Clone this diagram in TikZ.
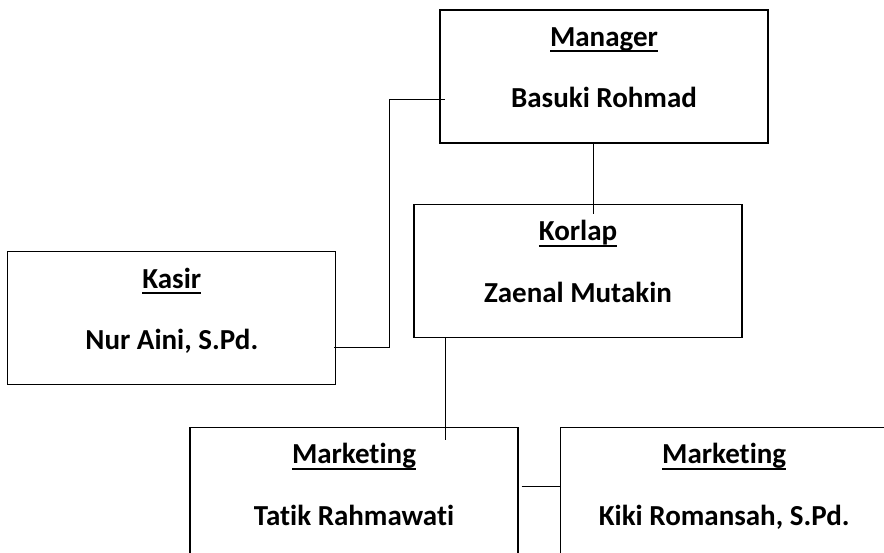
\documentclass[tikz,border=0pt]{standalone}
\usepackage{fontspec}
\setmainfont{Carlito}[Ligatures=NoCommon]
\usetikzlibrary{positioning}
\newcommand\boxtitle[1]{\setbox0\hbox{#1}\rlap{\rule[-6pt]{\wd0}{2pt}}\box0}

\begin{document}
\begin{tikzpicture}[%
        every node/.style={rectangle, draw, line width=1.2pt, minimum width=328pt, minimum height=133pt, inner sep=0pt,
          align=center, font=\fontsize{29pt}{61.5pt}\selectfont\bfseries, text height=80pt, text depth=17pt},
        link/.style={line width=1pt},
        node distance=60pt
      ]
      \useasboundingbox (0,0) rectangle (884pt,-553pt);
      \node (manager) at (604pt,-76.5pt) {\boxtitle{Manager}\\Basuki Rohmad};
      \node (korlap) [below=60pt of manager, xshift=-26pt] {\boxtitle{Korlap}\\Zaenal Mutakin};
      \node (kasir) [left=77pt of korlap, yshift=-47.5pt] {\boxtitle{Kasir}\\Nur Aini, S.Pd.};
      \node (mkt1) [below=89pt of korlap, xshift=-224pt] {\boxtitle{Marketing}\\Tatik Rahmawati};
      \node (mkt2) [right=41pt of mkt1] {\boxtitle{Marketing}\\Kiki Romansah, S.Pd.};
      \draw [link] ([shift={(-2pt,-29.5pt)}]kasir.east) -- ++(55pt,0) |- ([shift={(6pt,-23.5pt)}]manager.west);
      \draw [link] ([xshift=-11pt]manager.south) -- ([shift={(15pt,-10pt)}]korlap.north);
      \draw [link] ([xshift=-133pt]korlap.south) -- ([shift={(91pt,-13pt)}]mkt1.north);
      \draw [link] ([shift={(3pt,7.5pt)}]mkt1.east) -- ([yshift=7.5pt]mkt2.west);
    \end{tikzpicture}
\end{document}
